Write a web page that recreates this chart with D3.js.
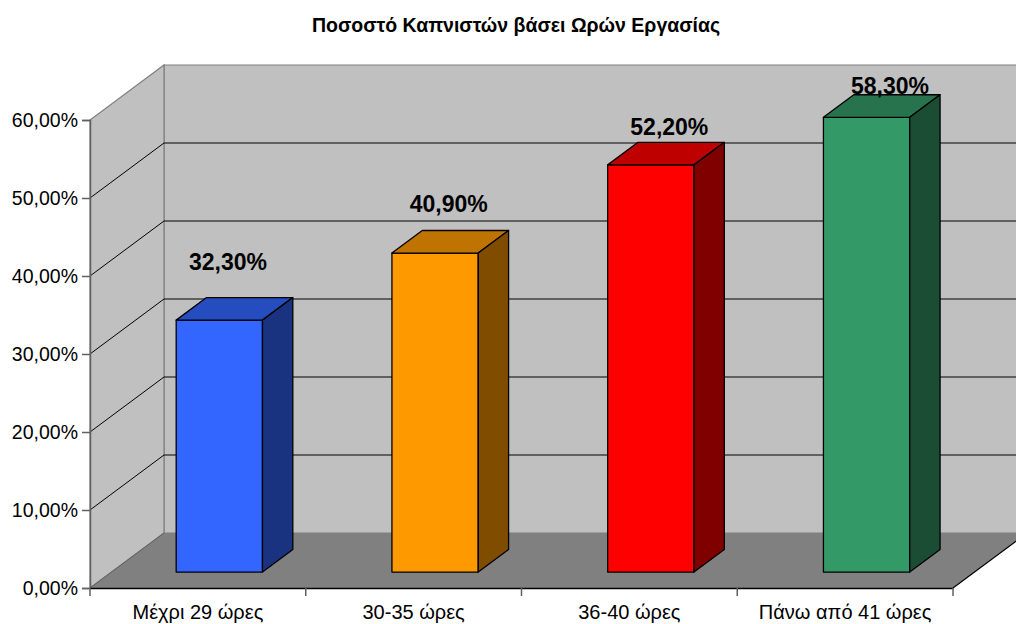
<!DOCTYPE html>
<html>
<head>
<meta charset="utf-8">
<script src="https://cdn.jsdelivr.net/npm/d3@7"></script>
<style>
html,body{margin:0;padding:0;background:#fff;}
svg{display:block;font-family:Arial,"Liberation Sans",sans-serif;}
</style>
</head>
<body>
<svg id="chart" width="1016" height="624"></svg>
<script>
const title = "Ποσοστό Καπνιστών βάσει Ωρών Εργασίας";
const categories = ["Μέχρι 29 ώρες", "30-35 ώρες", "36-40 ώρες", "Πάνω από 41 ώρες"];
const values = [32.3, 40.9, 52.2, 58.3];
const yTicks = [0, 10, 20, 30, 40, 50, 60];
const frontColors = ["#3366ff", "#ff9900", "#ff0000", "#339966"];

const svg = d3.select("#chart");

const greek = d3.formatLocale({decimal: ",", thousands: ".", grouping: [3], currency: ["", "€"]});
const fmt = v => greek.format(".2%")(v / 100);

// 3D geometry
const DX = 74, DY = -55;           // full depth offset
const z0 = 0.29, z1 = 0.70;        // bar depth range
const x = d3.scaleBand().domain(categories).range([90, 953]).padding(0);
const y = d3.scaleLinear().domain([0, 60]).range([588, 120]);
const P = (xf, v, z) => [xf + z * DX, y(v) + z * DY];
const poly = pts => "M" + pts.map(p => p.join(",")).join("L") + "Z";
const line = (a, b) => "M" + a.join(",") + "L" + b.join(",");

const x0 = x.range()[0], x1 = x.range()[1];
const vMax = d3.max(yTicks);

// Walls
svg.append("path").attr("d", poly([P(x0, 0, 1), P(x0, vMax, 1), P(x1, vMax, 1), P(x1, 0, 1)]))
  .attr("fill", "#c0c0c0").attr("stroke", "#808080").attr("stroke-width", 1.2);
svg.append("path").attr("d", poly([P(x0, 0, 0), P(x0, vMax, 0), P(x0, vMax, 1), P(x0, 0, 1)]))
  .attr("fill", "#c0c0c0").attr("stroke", "#808080").attr("stroke-width", 1.2);
svg.append("path").attr("d", poly([P(x0, 0, 0), P(x1, 0, 0), P(x1, 0, 1), P(x0, 0, 1)]))
  .attr("fill", "#808080").attr("stroke", "none");

// Gridlines
yTicks.filter(t => t > 0 && t < vMax).forEach(t => {
  svg.append("path").attr("d", line(P(x0, t, 1), P(x1, t, 1))).attr("stroke", "#000").attr("stroke-width", 1).attr("fill", "none");
  svg.append("path").attr("d", line(P(x0, t, 0), P(x0, t, 1))).attr("stroke", "#000").attr("stroke-width", 1).attr("fill", "none");
});
// floor edges
svg.append("path").attr("d", line(P(x0, 0, 0), P(x0, 0, 1))).attr("stroke", "#606060").attr("fill", "none");
svg.append("path").attr("d", line(P(x1, 0, 0), P(x1, 0, 1))).attr("stroke", "#000").attr("stroke-width", 1.2).attr("fill", "none");

// Y axis
const yAxis = d3.axisLeft(y).tickValues(yTicks).tickSize(8).tickPadding(4).tickFormat(fmt);
const gy = svg.append("g").attr("transform", `translate(${x0},0)`).call(yAxis);
gy.select(".domain").attr("stroke", "#606060").attr("stroke-width", 1.5);
gy.selectAll(".tick line").attr("stroke", "#606060").attr("stroke-width", 1.5);
gy.selectAll(".tick text").attr("font-size", 19.5).attr("fill", "#000").attr("font-family", "Arial, 'Liberation Sans', sans-serif");

// X axis
const xAxis = d3.axisBottom(x).tickSize(0).tickPadding(17);
const gx = svg.append("g").attr("transform", `translate(0,${y(0)})`).call(xAxis);
gx.select(".domain").attr("stroke", "#000").attr("stroke-width", 1.5);
gx.selectAll(".tick text").attr("font-size", 20).attr("fill", "#000").attr("font-family", "Arial, 'Liberation Sans', sans-serif");
// category boundary ticks
const bounds = categories.map(c => x(c)).concat([x1]);
svg.append("g").selectAll("line").data(bounds).join("line")
  .attr("x1", d => d).attr("x2", d => d).attr("y1", y(0)).attr("y2", y(0) + 8)
  .attr("stroke", "#606060").attr("stroke-width", 1.5);

// Bars
const shade = (c, k) => { const r = d3.rgb(c); return d3.rgb(r.r * k, r.g * k, r.b * k).formatHex(); };
const bw = x.bandwidth() * 0.4;
const bars = svg.append("g");
categories.forEach((c, i) => {
  const v = values[i];
  const xl = x(c) + (x.bandwidth() - bw) / 2;
  const xr = xl + bw;
  const g = bars.append("g").attr("stroke", "#000").attr("stroke-width", 1.3).attr("stroke-linejoin", "round");
  g.append("path").attr("d", poly([P(xl, 0, z0), P(xl, v, z0), P(xr, v, z0), P(xr, 0, z0)])).attr("fill", frontColors[i]);
  g.append("path").attr("d", poly([P(xl, v, z0), P(xr, v, z0), P(xr, v, z1), P(xl, v, z1)])).attr("fill", shade(frontColors[i], 0.75));
  g.append("path").attr("d", poly([P(xr, 0, z0), P(xr, v, z0), P(xr, v, z1), P(xr, 0, z1)])).attr("fill", shade(frontColors[i], 0.5));
});

// Data labels
const labelX = d3.scalePoint().domain(categories).range([228, 890]);
const labelY = d3.scaleLinear().domain([0, 60]).range([490, 82]);
svg.append("g").selectAll("text").data(categories).join("text")
  .attr("x", d => labelX(d)).attr("y", (d, i) => labelY(values[i]))
  .attr("text-anchor", "middle").attr("font-weight", "bold").attr("font-size", 23)
  .attr("fill", "#000").text((d, i) => fmt(values[i]));

// Title
svg.append("text").attr("x", 516).attr("y", 32).attr("text-anchor", "middle")
  .attr("font-weight", "bold").attr("font-size", 19.5).attr("fill", "#000").text(title);
</script>
</body>
</html>
